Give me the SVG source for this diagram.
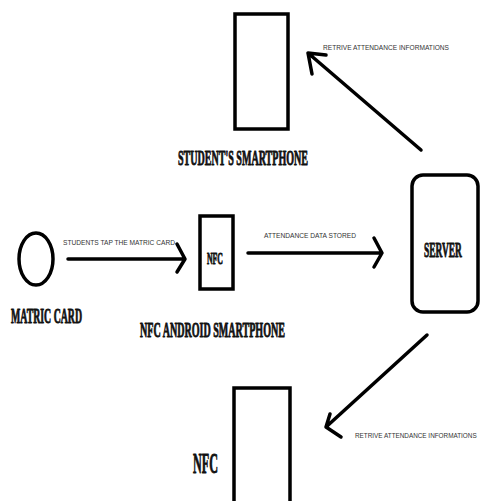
<svg xmlns="http://www.w3.org/2000/svg" width="482" height="501" viewBox="0 0 482 501">
<style>
.shape{fill:none;stroke:#000;stroke-width:3.5}
.conn{fill:none;stroke:#000;stroke-width:3.5;stroke-linecap:round;stroke-linejoin:round}
.big{font-family:"Liberation Serif",serif;font-weight:bold;fill:#111;stroke:#111;stroke-width:0.9;stroke-linejoin:round}
.small{font-family:"Liberation Sans",Arial,sans-serif;font-size:8px;fill:#333}
</style>
<rect width="482" height="501" fill="#fff"/>
<g id="matric-card">
<ellipse class="shape" cx="36" cy="259" rx="17" ry="26"/>
<text class="big" x="11" y="323" font-size="21" textLength="71" lengthAdjust="spacingAndGlyphs">MATRIC CARD</text>
</g>
<g id="nfc-android">
<rect class="shape" x="200" y="216" width="33" height="73"/>
<text class="big" x="207" y="264" font-size="17" textLength="16" lengthAdjust="spacingAndGlyphs">NFC</text>
<text class="big" x="140" y="337" font-size="21" textLength="145" lengthAdjust="spacingAndGlyphs">NFC ANDROID SMARTPHONE</text>
</g>
<g id="student-smartphone">
<rect class="shape" x="235" y="14" width="53" height="115"/>
<text class="big" x="178" y="165" font-size="21" textLength="130" lengthAdjust="spacingAndGlyphs">STUDENT'S SMARTPHONE</text>
</g>
<g id="server">
<rect class="shape" x="412" y="175" width="66" height="137" rx="11"/>
<text class="big" transform="translate(424,257) scale(0.45,1)" x="0" y="0" font-size="21" stroke-width="1.4" textLength="84" lengthAdjust="spacingAndGlyphs">SERVER</text>
</g>
<g id="nfc-bottom">
<path class="shape" d="M234,503 V388 H290 V503"/>
<text class="big" x="193" y="473" font-size="29" textLength="25" lengthAdjust="spacingAndGlyphs">NFC</text>
</g>
<g id="connectors">
<path class="conn" d="M68,259 H185 M177,244 L185,259 L177,272"/>
<text class="small" x="63" y="245" textLength="112" lengthAdjust="spacingAndGlyphs">STUDENTS TAP THE MATRIC CARD</text>
<path class="conn" d="M248,253 H382 M374,238 L382,253 L374,267"/>
<text class="small" x="264" y="238" textLength="92" lengthAdjust="spacingAndGlyphs">ATTENDANCE DATA STORED</text>
<path class="conn" d="M421,150 L308,53 M326,55 L308,53 L312,74"/>
<text class="small" x="323" y="50" textLength="126" lengthAdjust="spacingAndGlyphs">RETRIVE ATTENDANCE INFORMATIONS</text>
<path class="conn" d="M427,335 L326,427 M330,414 L326,427 L341,437"/>
<text class="small" transform="translate(355,438) scale(0.79,1)" x="0" y="0" textLength="154" lengthAdjust="spacingAndGlyphs">RETRIVE ATTENDANCE INFORMATIONS</text>
</g>
</svg>
